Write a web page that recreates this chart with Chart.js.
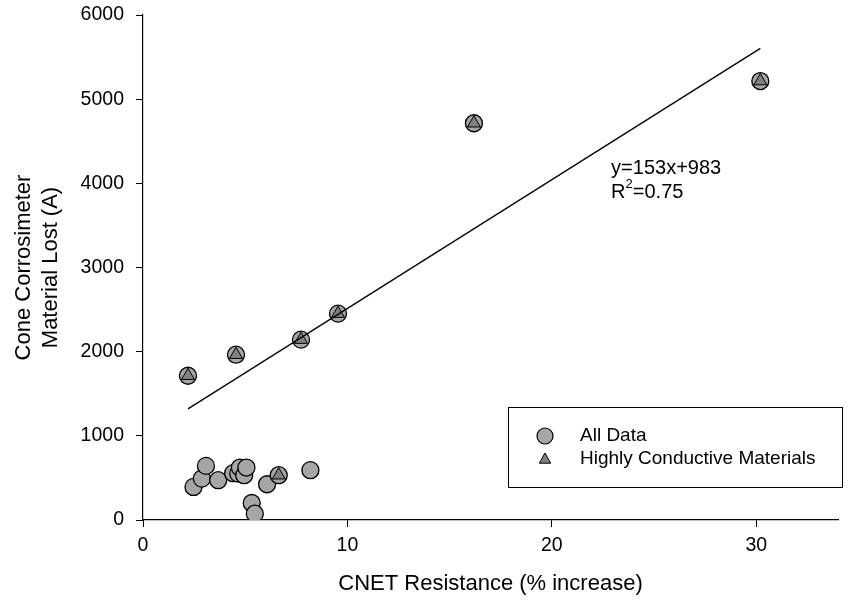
<!DOCTYPE html>
<html>
<head>
<meta charset="utf-8">
<script src="https://cdn.jsdelivr.net/npm/chart.js@4.4.1/dist/chart.umd.min.js"></script>
<style>
  html, body { margin: 0; padding: 0; background: #fff; }
  #wrap { width: 850px; height: 608px; }
</style>
</head>
<body>
<div id="wrap"><canvas id="mainChart" width="850" height="608"></canvas></div>
<script>
// Datos
const allDataX = [2.47, 2.88, 3.08, 3.68, 4.41, 4.66, 4.74, 4.95, 5.06, 5.32, 5.47, 6.07, 6.64, 8.19,
                  2.2, 4.55, 7.73, 9.54, 16.19, 30.2];
const allDataY = [393, 492, 643, 473, 556, 551, 623, 532, 623, 202, 75, 425, 532, 592,
                  1714, 1964, 2143, 2452, 4714, 5215];
const conductiveX = [2.2, 4.55, 6.64, 7.73, 9.54, 16.19, 30.2];
const conductiveY = [1714, 1964, 532, 2143, 2452, 4714, 5215];
const trendX = [2.2, 30.2];
const trendY = [1320, 5604];
const xTicks = [0, 10, 20, 30];
const yTicks = [0, 1000, 2000, 3000, 4000, 5000, 6000];
const seriesNames = ["All Data", "Highly Conductive Materials"];
const eqLine1 = "y=153x+983";
const eqR2 = "0.75";

const FONT = "'Liberation Sans', Arial, sans-serif";
const colors = {
    circle: "#a6a6a6",
    triangle: "#808080",
    ink: "#000000",
};

function toPoints(xs, ys) {
    return xs.map((x, i) => ({ x: x, y: ys[i] }));
}

// Leyenda dibujada dentro del área del gráfico
const boxLegend = {
    id: "boxLegend",
    afterDraw(chart) {
        const c = chart.ctx;
        const area = chart.chartArea;
        const left = area.right - 330;
        const top = area.bottom - 113;
        c.save();
        c.strokeStyle = colors.ink;
        c.lineWidth = 1;
        c.strokeRect(left + 0.5, top + 0.5, 334, 80);

        c.font = "19px " + FONT;
        c.textBaseline = "middle";
        c.fillStyle = colors.ink;

        // círculo
        c.beginPath();
        c.arc(left + 37, top + 29, 8, 0, Math.PI * 2);
        c.fillStyle = colors.circle;
        c.fill();
        c.lineWidth = 1.2;
        c.stroke();
        c.fillStyle = colors.ink;
        c.fillText(seriesNames[0], left + 72, top + 29);

        // triángulo
        const tx = left + 37, ty = top + 52, r = 6;
        c.beginPath();
        c.moveTo(tx, ty - r);
        c.lineTo(tx + r * 0.95, ty + r * 0.7);
        c.lineTo(tx - r * 0.95, ty + r * 0.7);
        c.closePath();
        c.fillStyle = colors.triangle;
        c.fill();
        c.lineWidth = 1;
        c.stroke();
        c.fillStyle = colors.ink;
        c.fillText(seriesNames[1], left + 72, top + 52);
        c.restore();
    },
};

// Ecuación de la regresión
const equation = {
    id: "equation",
    afterDraw(chart) {
        const c = chart.ctx;
        const x = chart.scales.x.getPixelForValue(22.9);
        const y = chart.scales.y.getPixelForValue(4180);
        c.save();
        c.fillStyle = colors.ink;
        c.textBaseline = "middle";
        c.font = "20px " + FONT;
        c.fillText(eqLine1, x, y);
        const y2 = y + 24;
        c.fillText("R", x, y2);
        const rw = c.measureText("R").width;
        c.font = "13px " + FONT;
        c.fillText("2", x + rw, y2 - 8);
        const sw = c.measureText("2").width;
        c.font = "20px " + FONT;
        c.fillText("=" + eqR2, x + rw + sw, y2);
        c.restore();
    },
};

const ctx = document.getElementById("mainChart").getContext("2d");
new Chart(ctx, {
    type: "scatter",
    data: {
        datasets: [
            {
                type: "line",
                label: "trend",
                data: toPoints(trendX, trendY),
                borderColor: colors.ink,
                borderWidth: 1.3,
                pointRadius: 0,
                fill: false,
                order: 0,
            },
            {
                label: seriesNames[1],
                data: toPoints(conductiveX, conductiveY),
                pointStyle: "triangle",
                pointRadius: 7.5,
                backgroundColor: colors.triangle,
                borderColor: colors.ink,
                borderWidth: 1,
                order: 1,
            },
            {
                label: seriesNames[0],
                data: toPoints(allDataX, allDataY),
                pointStyle: "circle",
                pointRadius: 8.5,
                backgroundColor: colors.circle,
                borderColor: colors.ink,
                borderWidth: 1.3,
                order: 2,
            },
        ],
    },
    options: {
        responsive: false,
        animation: false,
        layout: { padding: { top: 15, right: 12, left: 0, bottom: 0 } },
        plugins: {
            legend: { display: false },
            tooltip: { enabled: false },
        },
        scales: {
            x: {
                type: "linear",
                min: 0,
                max: 34,
                afterBuildTicks: (s) => { s.ticks = xTicks.map((v) => ({ value: v })); },
                afterFit: (s) => { s.height = 88; s.paddingLeft = 0; s.paddingRight = 0; },
                ticks: {
                    color: colors.ink,
                    font: { family: FONT, size: 19.5 },
                    padding: 7,
                    callback: (v) => String(v),
                },
                grid: { drawOnChartArea: false, drawTicks: true, tickLength: 7, tickColor: colors.ink },
                border: { color: colors.ink, width: 1.2 },
                title: {
                    display: true,
                    text: "CNET Resistance (% increase)",
                    color: colors.ink,
                    font: { family: FONT, size: 22 },
                    padding: { top: 0, bottom: 11 },
                },
            },
            y: {
                type: "linear",
                min: 0,
                max: 6000,
                afterBuildTicks: (s) => { s.ticks = yTicks.map((v) => ({ value: v })); },
                afterFit: (s) => { s.width = 143; s.paddingTop = 0; s.paddingBottom = 0; },
                ticks: {
                    color: colors.ink,
                    font: { family: FONT, size: 19.5 },
                    padding: 12,
                    callback: (v) => String(v),
                },
                grid: { drawOnChartArea: false, drawTicks: true, tickLength: 7, tickColor: colors.ink },
                border: { color: colors.ink, width: 1.2 },
                title: {
                    display: true,
                    text: ["Cone Corrosimeter", "Material Lost (A)"],
                    color: colors.ink,
                    font: { family: FONT, size: 22, lineHeight: 1.2 },
                    padding: { top: 11, bottom: 0 },
                },
            },
        },
    },
    plugins: [boxLegend, equation],
});
</script>
</body>
</html>
